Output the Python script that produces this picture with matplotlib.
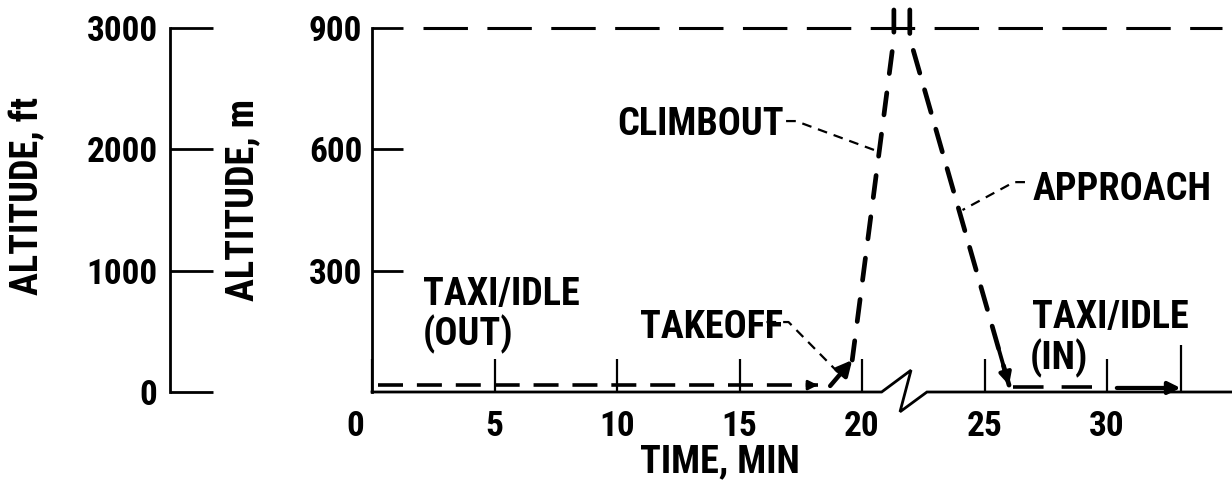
import matplotlib
matplotlib.use("Agg")
import matplotlib.pyplot as plt

# ==========================================
# DATA (time in min, altitude in m)
# ==========================================
time_ticks = [0, 5, 10, 15, 20, 25, 30]
time_labels = ["", "5", "10", "15", "20", "25", "30"]
time_end_tick = [33]
alt_m_ticks = [300, 600, 900]
alt_ft_ticks = [0, 1000, 2000, 3000]
mixing_height_m = 900

taxi_out_t = [0.25, 18.2]
taxi_out_alt = [17, 17]
takeoff_t = [18.7, 19.6]
takeoff_alt = [15, 79]
climb_t = [19.6, 21.3, 21.3]
climb_alt = [79, 875, 945]
approach_t = [21.95, 21.95, 26.0]
approach_alt = [945, 875, 17]
taxi_in_t = [26.15, 29.4]
taxi_in_alt = [12, 12]
taxi_in_arrow_t = [30.4, 33.0]
taxi_in_arrow_alt = [10, 10]

# zigzag break drawn in the time axis
break_t = [20.8, 22.0, 21.55, 22.65]
break_alt = [0, 54, -49, 0]

# ==========================================
# STYLE
# ==========================================
plt.rcParams["font.family"] = ["Roboto Condensed", "PT Sans Narrow", "DejaVu Sans"]
plt.rcParams["font.weight"] = "bold"
plt.rcParams["axes.labelweight"] = "bold"
plt.rcParams["lines.scale_dashes"] = False

FS_TICK = 25.5
FS_TEXT = 27.5
X_MAX = 35.1
Y_MAX = 969.4

fig = plt.figure(figsize=(12.32, 4.88), dpi=100)
fig.patch.set_facecolor("white")

# main axes (metres)
ax = fig.add_axes([372 / 1232, 96 / 488, 860 / 1232, 392 / 488])
ax.patch.set_visible(False)
ax.set_xlim(0, X_MAX)
ax.set_ylim(0, Y_MAX)
for s in ["top", "right", "bottom"]:
    ax.spines[s].set_visible(False)
ax.spines["left"].set_linewidth(2.0)
ax.spines["left"].set_bounds(0, mixing_height_m)

ax.set_xticks(time_ticks)
ax.set_xticklabels(time_labels, fontsize=FS_TICK)
ax.set_xticks(time_end_tick, minor=True)
ax.tick_params(axis="x", which="major", direction="in", length=24, width=1.6, pad=13)
ax.tick_params(axis="x", which="minor", direction="in", length=34, width=1.6)
ax.set_yticks(alt_m_ticks)
ax.set_yticklabels([str(v) for v in alt_m_ticks], fontsize=FS_TICK)
ax.tick_params(axis="y", direction="in", length=22, width=2.0, pad=7)
ax.annotate("0", xy=(0, 0), xytext=(-12, -13), textcoords="offset points",
            ha="center", va="top", fontsize=FS_TICK, annotation_clip=False)

ax.set_xlabel("TIME, MIN", fontsize=FS_TEXT, va="center")
ax.xaxis.set_label_coords((720 - 372) / 860, (392 - 462) / 392)
ax.set_ylabel("ALTITUDE, m", fontsize=FS_TEXT, va="center")
ax.yaxis.set_label_coords((243 - 372) / 860, (392 - 200) / 392)

# baseline with break
base_t = [0] + break_t + [X_MAX]
base_alt = [0] + break_alt + [0]
ax.plot(base_t, base_alt, color="black", lw=2.0, clip_on=False, solid_joinstyle="miter")

# mixing height line
ax.plot([2.1, 34.7], [mixing_height_m] * 2, color="black", lw=2.2,
        linestyle=(0, (32, 14)), clip_on=False)

# flight path
ax.plot(taxi_out_t, taxi_out_alt, color="black", lw=2.6, linestyle=(0, (18, 10)))
ax.annotate("", xy=(taxi_out_t[-1], taxi_out_alt[-1]),
            xytext=(taxi_out_t[-1] - 0.4, taxi_out_alt[-1]),
            arrowprops=dict(arrowstyle="-|>", color="black", lw=2, mutation_scale=14,
                            shrinkA=0, shrinkB=0))
ax.annotate("", xy=(takeoff_t[-1], takeoff_alt[-1]), xytext=(takeoff_t[0], takeoff_alt[0]),
            arrowprops=dict(arrowstyle="-|>", color="black", lw=3.2, mutation_scale=22,
                            shrinkA=0, shrinkB=0))
ax.plot(climb_t, climb_alt, color="black", lw=3.4, linestyle=(2, (16, 14)),
        clip_on=False, dash_capstyle="round")
ax.plot(approach_t, approach_alt, color="black", lw=3.4, linestyle=(0, (17, 12.5)),
        clip_on=False, dash_capstyle="round")
frac = 0.9
ax.annotate("", xy=(approach_t[-1], approach_alt[-1]),
            xytext=(approach_t[-2] + frac * (approach_t[-1] - approach_t[-2]),
                    approach_alt[-2] + frac * (approach_alt[-1] - approach_alt[-2])),
            arrowprops=dict(arrowstyle="-|>", color="black", lw=2.8, mutation_scale=18,
                            shrinkA=0, shrinkB=0))
ax.plot(taxi_in_t, taxi_in_alt, color="black", lw=2.6, linestyle=(0, (22, 13)))
ax.annotate("", xy=(taxi_in_arrow_t[-1], taxi_in_arrow_alt[-1]),
            xytext=(taxi_in_arrow_t[0], taxi_in_arrow_alt[0]),
            arrowprops=dict(arrowstyle="-|>", color="black", lw=3.0, mutation_scale=18,
                            shrinkA=0, shrinkB=0))

# phase labels and leaders
ax.text(2.08, 215, "TAXI/IDLE", fontsize=FS_TEXT, ha="left", va="baseline")
ax.text(2.08, 116, "(OUT)", fontsize=FS_TEXT, ha="left", va="baseline")
ax.text(10.94, 134, "TAKEOFF", fontsize=FS_TEXT, ha="left", va="baseline")
ax.text(10.0, 636, "CLIMBOUT", fontsize=FS_TEXT, ha="left", va="baseline")
ax.text(26.98, 475, "APPROACH", fontsize=FS_TEXT, ha="left", va="baseline")
ax.text(26.94, 158, "TAXI/IDLE", fontsize=FS_TEXT, ha="left", va="baseline")
ax.text(26.86, 57, "(IN)", fontsize=FS_TEXT, ha="left", va="baseline")

leader = dict(color="black", lw=1.6, linestyle=(0, (7, 5)))
ax.plot([16.1, 17.0, 19.0], [173, 173, 50], **leader)
ax.plot([16.9, 17.3, 20.65], [670, 670, 595], **leader)
ax.plot([26.65, 26.2, 24.1], [519, 519, 450], **leader)

# feet axis on the far left
ax_ft = fig.add_axes([170 / 1232, 96 / 488, 50 / 1232, 364 / 488])
ax_ft.patch.set_visible(False)
ax_ft.set_ylim(0, 3000)
ax_ft.set_xlim(0, 1)
for s in ["top", "right", "bottom"]:
    ax_ft.spines[s].set_visible(False)
ax_ft.spines["left"].set_linewidth(2.0)
ax_ft.set_xticks([])
ax_ft.set_yticks(alt_ft_ticks)
ax_ft.set_yticklabels([str(v) for v in alt_ft_ticks], fontsize=FS_TICK)
ax_ft.tick_params(axis="y", direction="in", length=31, width=2.0, pad=9)
ax_ft.set_ylabel("ALTITUDE, ft", fontsize=FS_TEXT, va="center")
ax_ft.yaxis.set_label_coords((28 - 170) / 50, (392 - 196) / 364)

fig.savefig("out.png", dpi=100)
